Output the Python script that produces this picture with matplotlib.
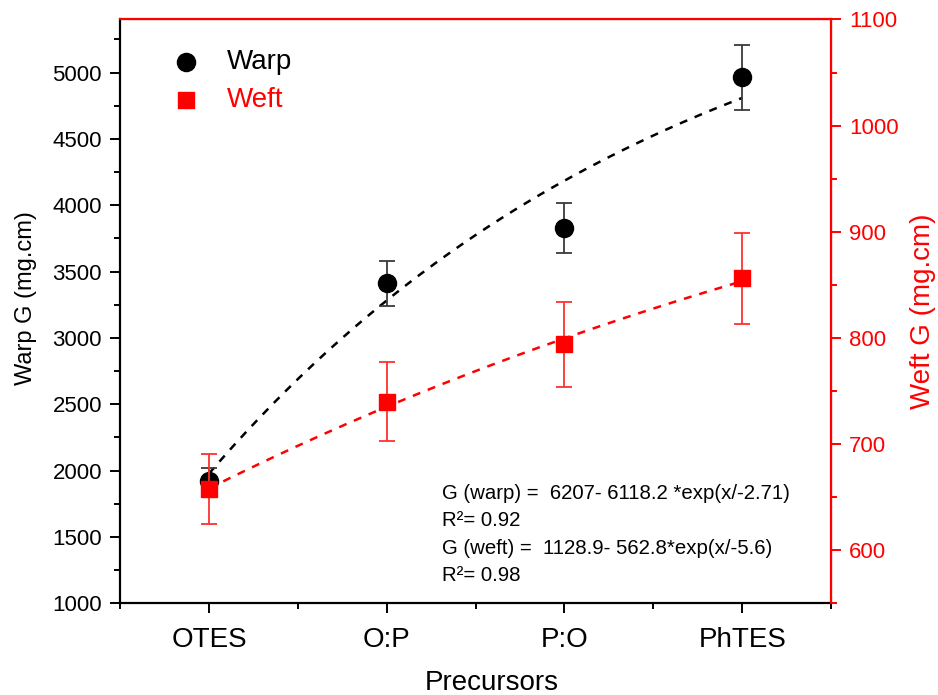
"""
Warp and weft bending rigidity G for the four siloxane precursors,
with exponential fits drawn as dashed curves (warp on left axis, weft on right).
"""
import numpy as np
import matplotlib

matplotlib.use("Agg")
import matplotlib.pyplot as plt
import matplotlib.transforms as mtransforms
from matplotlib.ticker import MultipleLocator

categories = ["OTES", "O:P", "P:O", "PhTES"]
warp_g = [1925, 3413, 3828, 4963]
warp_err = [95, 170, 189, 247]
weft_g = [658, 740, 794, 856]
weft_err = [33, 37, 40, 43]

# G = a - b * exp(x / c), parameters as reported in the annotation
WARP_FIT = (6207.0, 6118.2, -2.71)
WEFT_FIT = (1128.9, 562.8, -5.6)
WARP_R2 = 0.92
WEFT_R2 = 0.98

RED = "#FF0000"

plt.rcParams.update({
    "font.family": ["Liberation Sans", "DejaVu Sans"],
    "xtick.labelsize": 20,
    "ytick.labelsize": 16,
})


def fit_curve(params, x):
    a, b, c = params
    return a - b * np.exp(x / c)


fig = plt.figure(figsize=(9.38, 6.95), dpi=100)
ax = fig.add_axes([0.128, 0.132, 0.758, 0.840])
ax2 = ax.twinx()

x = np.arange(1, len(categories) + 1)
xf = np.linspace(x[0], x[-1], 200)

ax.plot(xf, fit_curve(WARP_FIT, xf), color="black", lw=1.8, ls=(0, (3.2, 3.2)), zorder=2)
ax.errorbar(x, warp_g, yerr=warp_err, fmt="o", color="black", ecolor="#3a3a3a",
            elinewidth=1.3, capsize=6, capthick=1.3, markersize=13, zorder=3)

ax2.plot(xf, fit_curve(WEFT_FIT, xf), color=RED, lw=1.8, ls=(0, (3.2, 3.2)), zorder=2)
ax2.errorbar(x, weft_g, yerr=weft_err, fmt="s", color=RED, ecolor="#FF3030",
             elinewidth=1.3, capsize=6, capthick=1.3, markersize=11, zorder=3)

ax.set_xlim(0.5, 4.5)
ax.set_xticks(x)
ax.set_xticklabels(categories)
ax.xaxis.set_minor_locator(MultipleLocator(0.5))
# P:O sits a few pixels lower than the other category labels
po_label = ax.get_xticklabels()[2]
po_label.set_transform(po_label.get_transform()
                       + mtransforms.ScaledTranslation(0, -5 / 100, fig.dpi_scale_trans))

ax.set_ylim(1000, 5400)
ax.set_yticks(np.arange(1000, 5001, 500))
ax.yaxis.set_minor_locator(MultipleLocator(250))
ax2.set_ylim(550, 1100)
ax2.set_yticks(np.arange(600, 1101, 100))
ax2.yaxis.set_minor_locator(MultipleLocator(50))

ax.tick_params(axis="both", which="major", direction="out", length=7, width=1.4, pad=6)
ax.tick_params(axis="x", which="major", pad=10)
ax.tick_params(axis="both", which="minor", direction="out", length=4, width=1.4)
ax2.tick_params(axis="y", which="major", direction="out", length=7, width=1.4,
                colors=RED, pad=6)
ax2.tick_params(axis="y", which="minor", direction="out", length=4, width=1.4, colors=RED)

for side in ("left", "bottom"):
    ax.spines[side].set_linewidth(1.6)
for side in ("right", "top"):
    ax2.spines[side].set_color(RED)
    ax2.spines[side].set_linewidth(1.6)
ax2.spines["left"].set_visible(False)
ax2.spines["bottom"].set_visible(False)

ax.set_xlabel("Precursors", fontsize=20, labelpad=12)
ax.xaxis.label.set_x(0.523)
ax.set_ylabel("Warp G (mg.cm)", fontsize=17, labelpad=11)
ax.yaxis.label.set_y(0.523)
ax2.set_ylabel("Weft G (mg.cm)", fontsize=20, color=RED, labelpad=8)

warp_handle = ax.scatter([], [], marker="o", s=170, color="black")
weft_handle = ax.scatter([], [], marker="s", s=120, color=RED)
leg = ax2.legend([warp_handle, weft_handle], ["Warp", "Weft"], loc="upper left",
                 bbox_to_anchor=(0.027, 0.982), frameon=False, fontsize=20,
                 handlelength=2.0, handletextpad=0.45, labelspacing=0.42,
                 borderaxespad=0.3)
for txt, col in zip(leg.get_texts(), ["black", RED]):
    txt.set_color(col)

a, b, c = WARP_FIT
fit_lines = [
    f"G (warp) =  {a:.0f}- {b:.1f} *exp(x/{c:.2f})",
    f"R\u00b2= {WARP_R2:.2f}",
    f"G (weft) =  {WEFT_FIT[0]:.1f}- {WEFT_FIT[1]:.1f}*exp(x/{WEFT_FIT[2]:.1f})",
    f"R\u00b2= {WEFT_R2:.2f}",
]
for i, line in enumerate(fit_lines):
    ax2.text(0.453, 0.188 - i * 0.047, line, transform=ax.transAxes,
             fontsize=14.7, va="center", ha="left")

fig.savefig("out.png", dpi=100)
